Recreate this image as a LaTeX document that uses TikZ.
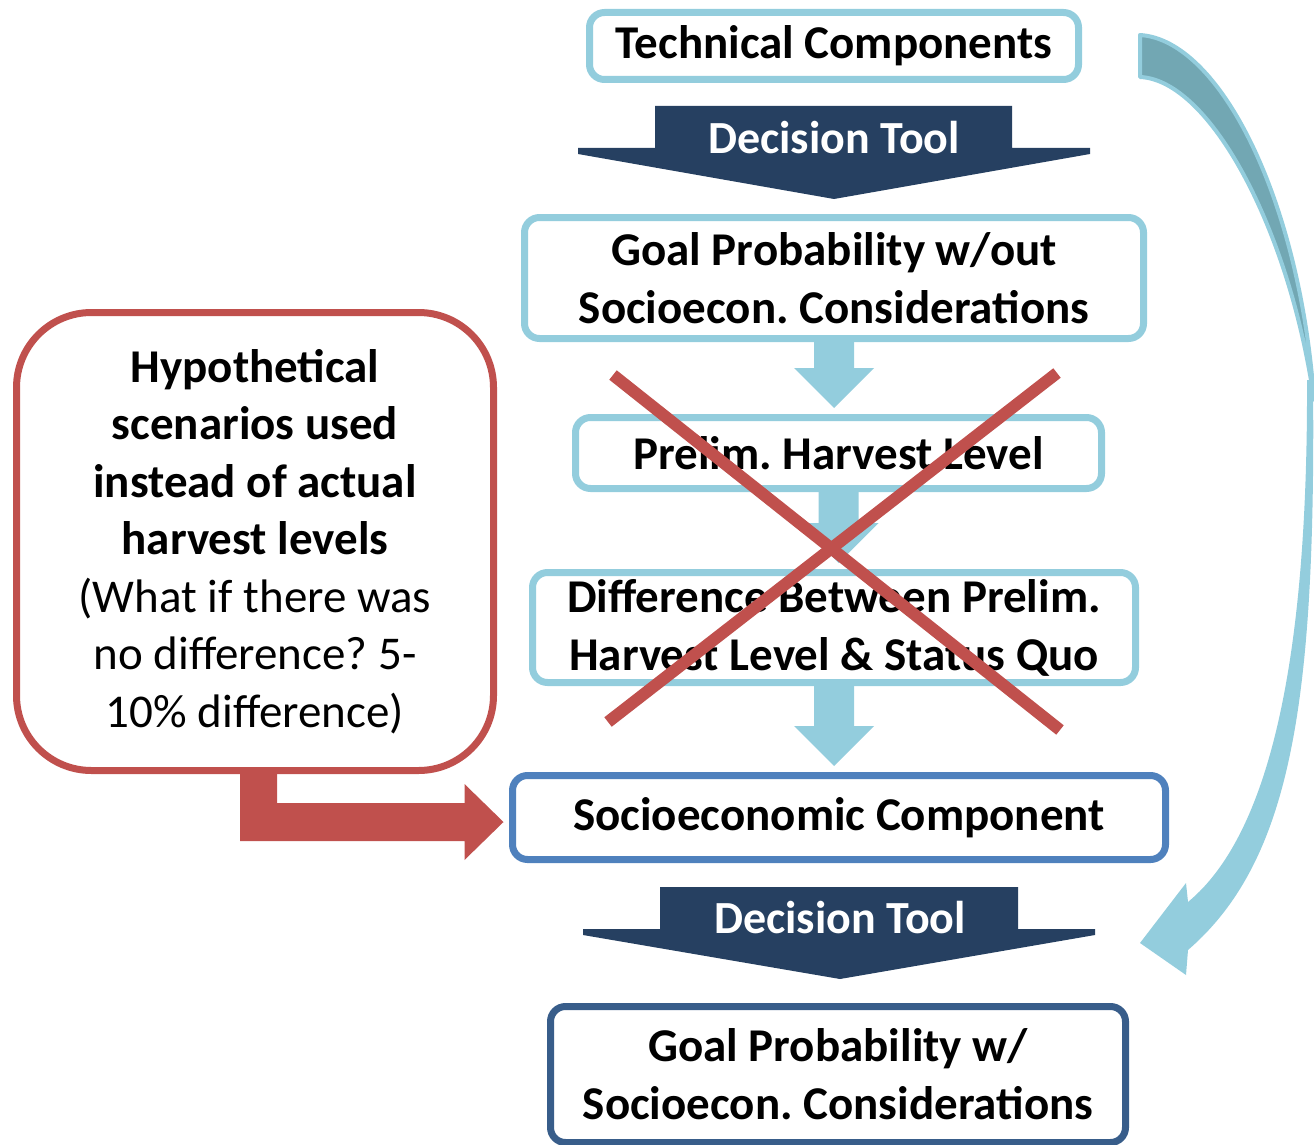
\documentclass[tikz,border=0pt]{standalone}
\usepackage{fontspec}
\setmainfont{Carlito}
\usetikzlibrary{calc,backgrounds}
\definecolor{lblue}{RGB}{147,205,221}
\definecolor{navy}{RGB}{38,64,97}
\definecolor{tomato}{RGB}{192,80,77}
\definecolor{midblue}{RGB}{79,129,189}
\definecolor{deepblue}{RGB}{56,93,138}
\definecolor{backteal}{RGB}{114,167,179}

\tikzset{
  box/.style={draw, line width=7pt, rounded corners=15pt, fill=white,
    align=center, inner sep=0pt,
    font=\bfseries\fontsize{47}{58}\selectfont},
  toolarrow/.style={fill=navy},
  tooltext/.style={text=white, inner sep=0pt, font=\bfseries\fontsize{46}{56}\selectfont},
  crossline/.style={draw=tomato, line width=12pt},
}

% light blue block arrow from the bottom of one box to the top of the next
\newcommand\flowarrow[2]{%
  \fill[lblue] let \p1=(#1.south), \p2=(#2.north) in
    (\x1-20pt,\y1) -- (\x1-20pt,\y2+46pt) -- (\x1-40pt,\y2+46pt) --
    (\x1,\y2+6pt) -- (\x1+40pt,\y2+46pt) -- (\x1+20pt,\y2+46pt) --
    (\x1+20pt,\y1) -- cycle;}

\begin{document}
\frenchspacing
\begin{tikzpicture}[x=1pt,y=-1pt]
\useasboundingbox (0,0) rectangle (1314,1145);

% curved return arrow on the right: back face, then front face with head
\filldraw[fill=backteal, draw=lblue, line width=4pt, line join=round]
  (1140,35) .. controls (1220,40) and (1300,200) .. (1314,400)
  .. controls (1290,230) and (1210,80) .. (1140,77) -- cycle;
\fill[lblue] (1313,380) .. controls (1316,700) and (1292,860) .. (1188,950)
  -- (1186,975) -- (1140,943) -- (1186,883) -- (1188,902)
  .. controls (1275,830) and (1308,640) .. (1307,380) -- cycle;

% boxes
\node[box, draw=lblue, minimum width=489pt, minimum height=67pt]
  (tech) at (834,46) {\raisebox{-3pt}{Technical Components}};
\node[box, draw=lblue, minimum width=619pt, minimum height=121pt]
  (gwo) at (834,278) {Goal Probability w/out\\Socioecon. Considerations};
\node[box, draw=lblue, minimum width=526pt, minimum height=71pt]
  (prelim) at (838.5,453) {Prelim. Harvest Level};
\node[box, draw=lblue, minimum width=603pt, minimum height=110pt]
  (diff) at (834,627.5) {Difference Between Prelim.\\Harvest Level \& Status Quo};
\node[box, draw=midblue, minimum width=653pt, minimum height=84pt]
  (socio) at (839,817.5) {\raisebox{-2pt}{Socioeconomic Component}};
\node[box, draw=deepblue, minimum width=575pt, minimum height=136pt]
  (gw) at (838,1074.5) {Goal Probability w/\\Socioecon. Considerations};

% block arrows between the boxes, kept under them
\begin{scope}[on background layer]
\flowarrow{gwo}{prelim}
\flowarrow{prelim}{diff}
\flowarrow{diff}{socio}
\end{scope}

% decision tool arrows
\fill[toolarrow] (655,106) -- (1012,106) -- (1012,148) -- (1090,148) --
  (1090,154) -- (834,199) -- (578,154) -- (578,148) -- (655,148) -- cycle;
\node[tooltext] (dt1) at (834,138) {Decision Tool};
\fill[toolarrow] (660,887) -- (1018,887) -- (1018,929) -- (1095,929) --
  (1095,935) -- (840,979) -- (583,935) -- (583,929) -- (660,929) -- cycle;
\node[tooltext] (dt2) at (840,918) {Decision Tool};

% hypothetical scenarios box and its arrow into the socioeconomic component
\node[draw=tomato, line width=7pt, rounded corners=75pt, fill=white,
  minimum width=477pt, minimum height=458pt, align=center, inner sep=0pt,
  font=\fontsize{47}{57.5}\selectfont]
  (hypo) at (255,541.5)
  {\textbf{Hypothetical}\\\textbf{scenarios used}\\\textbf{instead of actual}\\
   \textbf{harvest levels}\\(What if there was\\no difference? 5-\\10\% difference)};
\fill[tomato] let \p1=(hypo.south), \p2=(socio.west) in
  (\x1-15pt,\y1+2pt) -- (\x1-15pt,\y2-23.5pt) -- (\x2-44.5pt,\y2-23.5pt) --
  (\x2-44.5pt,\y2-42.5pt) -- (\x2-5.5pt,\y2-4.5pt) -- (\x2-44.5pt,\y2+33.5pt) --
  (\x2-44.5pt,\y2+14.5pt) -- (\x1+22pt,\y2+14.5pt) -- (\x1+22pt,\y1+2pt) -- cycle;
\draw[tomato, line width=7pt] let \p1=(hypo.south) in
  (\x1-15pt,\y1) -- (\x1+22pt,\y1);

% strike-through cross
\draw[crossline] (613,375) -- (1060,730);
\draw[crossline] (1057,373) -- (608,722);
\end{tikzpicture}
\end{document}
